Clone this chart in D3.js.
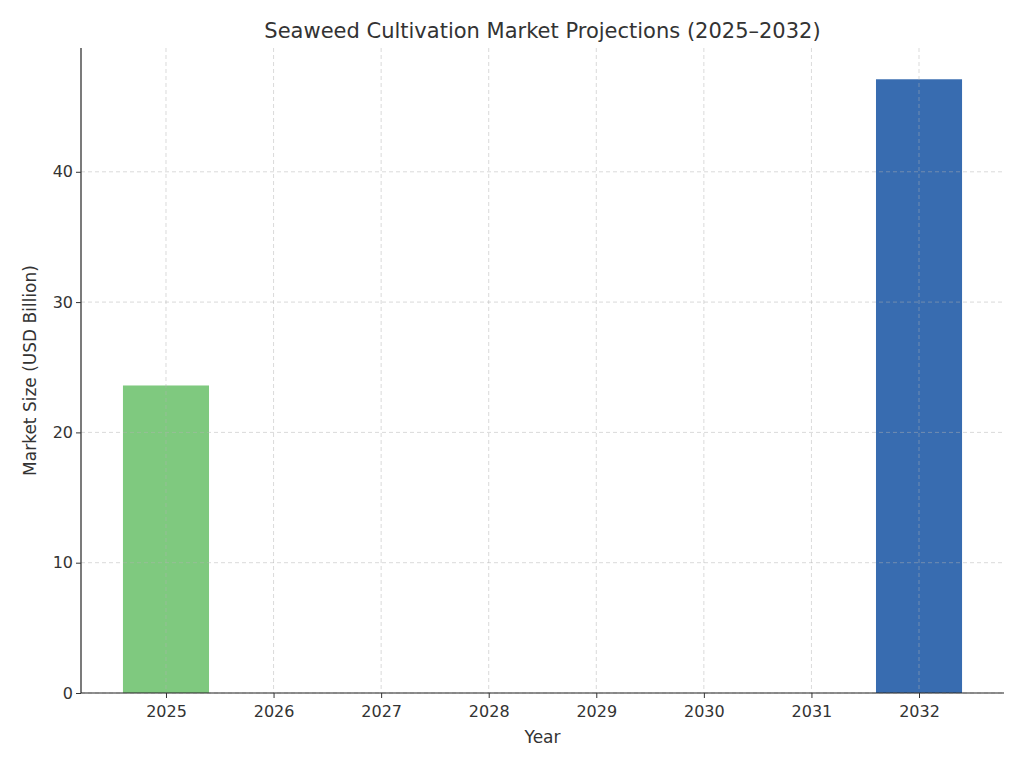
<!DOCTYPE html>
<html>
<head>
<meta charset="utf-8">
<script src="https://d3js.org/d3.v7.min.js"></script>
<style>
body { margin: 0; background: #fff; }
text { font-family: "DejaVu Sans", sans-serif; fill: #333; }
</style>
</head>
<body>
<script>
var years = [2025, 2026, 2027, 2028, 2029, 2030, 2031, 2032];
var values = [23.6, 0, 0, 0, 0, 0, 0, 47.1];
var colors = ["#7fc97f", "#7fc97f", "#7fc97f", "#7fc97f", "#7fc97f", "#7fc97f", "#7fc97f", "#386cb0"];
var yTicks = [0, 10, 20, 30, 40];

var width = 1024, height = 768;
var m = { left: 81, right: 20, top: 48, bottom: 75 };

var svg = d3.select("body").append("svg")
  .attr("width", width).attr("height", height);

var x = d3.scaleLinear().domain([2024.21, 2032.79]).range([m.left, width - m.right]);
var y = d3.scaleLinear().domain([0, 49.5]).range([height - m.bottom, m.top]);
var bw = (x(2026) - x(2025)) * 0.8;

svg.selectAll("rect.bar")
  .data(years)
  .enter().append("rect")
  .attr("class", "bar")
  .attr("x", function(d) { return x(d) - bw / 2; })
  .attr("width", bw)
  .attr("y", function(d, i) { return y(values[i]); })
  .attr("height", function(d, i) { return y(0) - y(values[i]); })
  .attr("fill", function(d, i) { return colors[i]; });

var grid = svg.append("g").attr("stroke", "#b0b0b0").attr("stroke-opacity", 0.6)
  .attr("stroke-dasharray", "4,3").attr("stroke-width", 0.8);
grid.selectAll("line.v").data(years).enter().append("line")
  .attr("x1", function(d) { return x(d); }).attr("x2", function(d) { return x(d); })
  .attr("y1", m.top).attr("y2", height - m.bottom);
grid.selectAll("line.h").data(yTicks).enter().append("line")
  .attr("y1", function(d) { return y(d); }).attr("y2", function(d) { return y(d); })
  .attr("x1", m.left).attr("x2", width - m.right);

var xAxis = svg.append("g").attr("transform", "translate(0," + (height - m.bottom) + ")")
  .call(d3.axisBottom(x).tickValues(years).tickFormat(d3.format("d")).tickSizeOuter(0).tickSize(5));
var yAxis = svg.append("g").attr("transform", "translate(" + m.left + ",0)")
  .call(d3.axisLeft(y).tickValues(yTicks).tickSizeOuter(0).tickSize(5));
[xAxis, yAxis].forEach(function(a) {
  a.selectAll("text").style("font-size", "16px").attr("fill", "#333");
  a.selectAll("line").attr("stroke", "#333");
  a.select(".domain").attr("stroke", "#222").attr("stroke-width", 1.2);
});
xAxis.selectAll("text").attr("dy", "1em");
// matplotlib draws only left/bottom spines here, extend domain to full length
xAxis.select(".domain").attr("d", "M" + m.left + ",0H" + (width - m.right));
yAxis.select(".domain").attr("d", "M0," + (height - m.bottom) + "V" + m.top);

svg.append("text").attr("x", (m.left + width - m.right) / 2).attr("y", 38)
  .attr("text-anchor", "middle").style("font-size", "21px")
  .text("Seaweed Cultivation Market Projections (2025\u20132032)");
svg.append("text").attr("x", (m.left + width - m.right) / 2).attr("y", 743)
  .attr("text-anchor", "middle").style("font-size", "17px").text("Year");
svg.append("text").attr("transform", "translate(36," + ((m.top + height - m.bottom) / 2) + ") rotate(-90)")
  .attr("text-anchor", "middle").style("font-size", "17px").text("Market Size (USD Billion)");
</script>
</body>
</html>
